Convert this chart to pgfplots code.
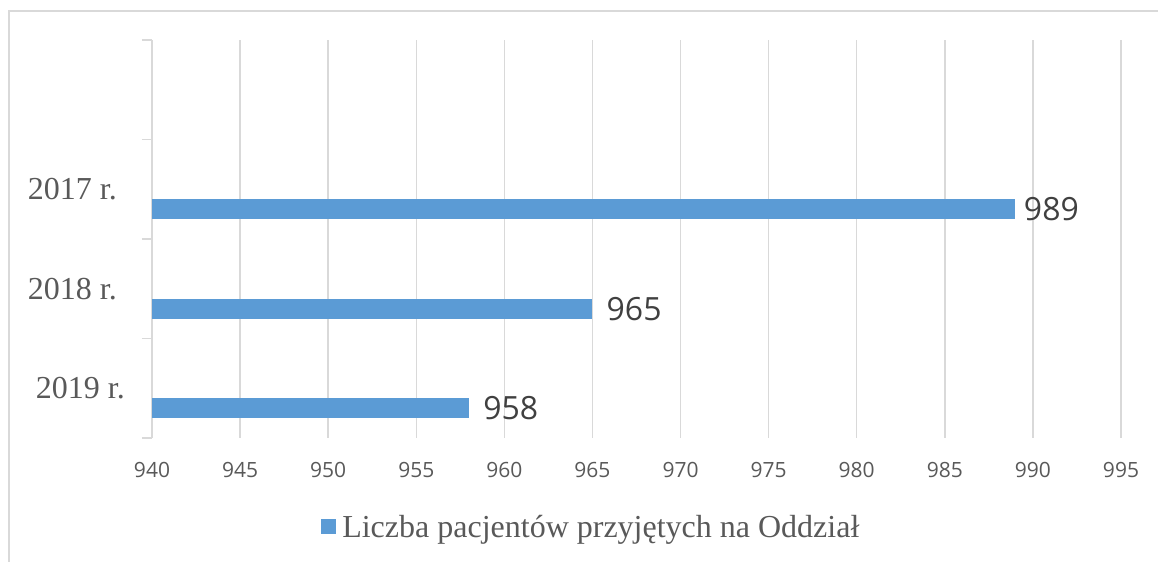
\documentclass[border=0pt]{standalone}
\usepackage{pgfplots}
\pgfplotsset{compat=1.18}
\usepackage{fontspec}
\setmainfont{Liberation Serif}
\newfontfamily\osans{Open Sans}
\definecolor{barblue}{HTML}{5B9BD5}
\definecolor{gridgray}{HTML}{D9D9D9}
\definecolor{ticktext}{HTML}{595959}
\definecolor{datatext}{HTML}{404040}
\begin{document}
\begin{tikzpicture}
\path[use as bounding box] (0,0) rectangle (1158bp,562bp);
\draw[gridgray, line width=1.3bp] (9bp,0) -- (9bp,551bp) -- (1158bp,551bp);
\begin{axis}[
  at={(152bp,124bp)}, anchor=south west,
  width=969bp, height=398bp, scale only axis,
  xmin=940, xmax=995, ymin=0, ymax=4,
  xtick={940,945,...,995},
  ytick={0.5,1.5,2.5},
  yticklabels={{2019 r.\hspace*{-8bp}}, 2018 r., 2017 r.},
  minor ytick={0,1,2,3,4},
  major tick length=0pt,
  minor tick length=10bp,
  tick align=outside,
  ytick style={draw=gridgray, line width=1.5bp},
  xtick style={draw=none},
  axis x line*=bottom, axis y line*=left,
  x axis line style={draw=none, -},
  y axis line style={draw=gridgray, line width=1.5bp, -},
  xmajorgrids, grid style={draw=gridgray, line width=1.5bp},
  /pgf/number format/assume math mode=true,
  /pgf/number format/1000 sep={},
  xticklabel style={font=\osans\fontsize{21bp}{25bp}\selectfont, text=ticktext, anchor=center, yshift=-32bp, inner sep=0pt},
  yticklabel style={font=\fontsize{32bp}{36bp}\selectfont, text=ticktext, anchor=east, inner sep=0pt, xshift=-35bp},
  xbar, bar width=20bp,
  nodes near coords,
  point meta=x,
  nodes near coords style={font=\osans\fontsize{32bp}{38bp}\selectfont, text=datatext, anchor=west, inner sep=0pt},
  legend style={at={(axis description cs:0.174,-0.2236)}, anchor=west, draw=none, fill=none, inner sep=0pt,
    font=\fontsize{32bp}{36bp}\selectfont, text=ticktext, nodes={inner sep=1.5bp}},
  legend image code/.code={\fill[barblue] (0bp,-7.5bp) rectangle (15bp,7.5bp); \path (20bp,0bp);},
]
\addplot[fill=barblue, draw=none, bar shift=0pt, nodes near coords style={xshift=14bp}] coordinates {(958,0.3)};
\addlegendentry{Liczba pacjentów przyjętych na Oddział}
\addplot[fill=barblue, draw=none, bar shift=0pt, nodes near coords style={xshift=14bp}] coordinates {(965,1.3)};
\addplot[fill=barblue, draw=none, bar shift=0pt, nodes near coords style={xshift=8.5bp}] coordinates {(989,2.3)};
\end{axis}
\end{tikzpicture}
\end{document}
